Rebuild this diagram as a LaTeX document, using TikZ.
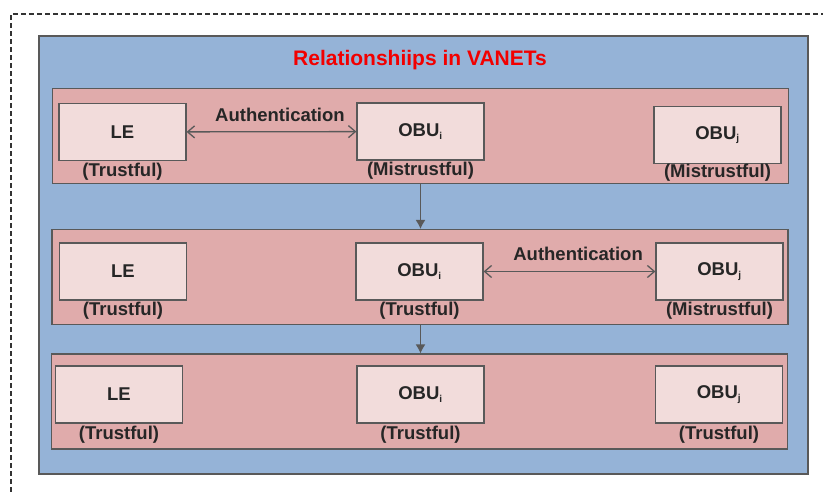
\documentclass[tikz,border=0pt]{standalone}
\usepackage{fontspec}
\setmainfont{Liberation Sans}
\usetikzlibrary{positioning, arrows.meta}
\tikzset{>=latex}
\definecolor{vanetblue}{HTML}{95B3D7}
\definecolor{rowpink}{HTML}{E0ABAB}
\definecolor{boxpink}{HTML}{F2DCDB}
\definecolor{edgegray}{HTML}{595959}
\tikzset{
  entity/.style={draw=edgegray, line width=1.2pt, fill=boxpink, minimum width=127pt, minimum height=57pt, inner sep=0pt,
    font=\fontsize{18.5}{20}\selectfont\bfseries, text=black!85},
  status/.style={inner sep=0pt, font=\fontsize{18.5}{20}\selectfont\bfseries, text=black!85},
  rowpanel/.style={draw=edgegray, line width=1.2pt, fill=rowpink, minimum width=736pt, minimum height=95pt, inner sep=0pt},
  authlink/.style={draw=edgegray, line width=1.3pt, {Straight Barb[length=7pt,width=12pt]}-{Straight Barb[length=7pt,width=12pt]}},
  nextstep/.style={draw=edgegray, line width=1.3pt, -{Latex[length=9pt,width=10pt]}}
}
\newcommand{\obu}[1]{OBU\textsubscript{\fontsize{10}{10}\selectfont #1}}

\begin{document}
\begin{tikzpicture}[x=1pt, y=-1pt]
    \useasboundingbox (0,0) rectangle (823,494);

    %dotted frame, runs off the picture
    \draw[line width=2pt, black!80, dash pattern=on 5pt off 3pt] (11,500) -- (11,14) -- (830,14);

    %big blue panel
    \draw[draw=edgegray, line width=1.2pt, fill=vanetblue] (39,36) rectangle (808,474);
    \node[inner sep=0pt, font=\fontsize{21}{24}\selectfont\bfseries, text=red!95!black] (title) at (420,60) {Relationshiips in VANETs};

    %the three stages
    \node[rowpanel] (row1) at (420.5,136) {};
    \node[rowpanel] (row2) at (420,277) {};
    \node[rowpanel] (row3) at (419.5,401.5) {};

    %stage 1
    \node[entity] (le1) at (122.5,132) {LE};
    \node[entity] (obui1) at (420.5,131.5) {\obu{i}};
    \node[entity] (obuj1) at (717.5,135) {\obu{j}};
    \node[status, below=1.5pt of le1] (le1s) {(Trustful)};
    \node[status, below=1.5pt of obui1] (obui1s) {(Mistrustful)};
    \node[status, below=0pt of obuj1] (obuj1s) {(Mistrustful)};
    \draw[authlink] (le1) -- node[status, pos=0.55, above=9pt] (auth1) {Authentication} (obui1);

    %stage 2
    \node[entity] (le2) at (123,271.5) {LE};
    \node[entity] (obui2) at (419.5,271.5) {\obu{i}};
    \node[entity] (obuj2) at (719.5,271.5) {\obu{j}};
    \node[status, below=1.5pt of le2] (le2s) {(Trustful)};
    \node[status, below=1.5pt of obui2] (obui2s) {(Trustful)};
    \node[status, below=1.5pt of obuj2] (obuj2s) {(Mistrustful)};
    \draw[authlink] (obui2) -- node[status, pos=0.55, above=10pt] (auth2) {Authentication} (obuj2);

    %stage 3
    \node[entity] (le3) at (119,394.5) {LE};
    \node[entity] (obui3) at (420.5,394.5) {\obu{i}};
    \node[entity] (obuj3) at (719,394.5) {\obu{j}};
    \node[status, below=2pt of le3] (le3s) {(Trustful)};
    \node[status, below=2pt of obui3] (obui3s) {(Trustful)};
    \node[status, below=2pt of obuj3] (obuj3s) {(Trustful)};

    %stage to stage
    \draw[nextstep] (row1.south -| obui1) -- (row2.north -| obui1);
    \draw[nextstep] (row2.south -| obui1) -- (row3.north -| obui1);
\end{tikzpicture}
\end{document}
